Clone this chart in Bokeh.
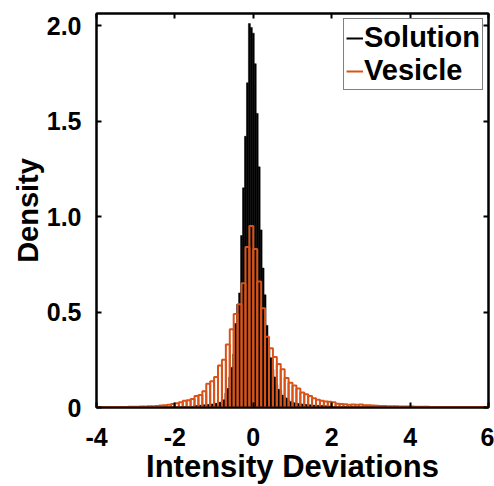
import numpy as np
from bokeh.plotting import figure
from bokeh.models import (Range1d, FixedTicker, LinearAxis, Legend, LegendItem,
                          ColumnDataSource)
from bokeh.embed import file_html
from bokeh.resources import INLINE

# ---------------- data ----------------
# Solution histogram: bins of width 0.05, first bin centred at -1.5
solution_first_center = -1.5
solution_bin_width = 0.05
solution_density = [
    0.010, 0.010, 0.011, 0.012, 0.013, 0.014, 0.015, 0.016, 0.017, 0.018,
    0.020, 0.022, 0.024, 0.027, 0.030,
    0.040, 0.075, 0.100, 0.160, 0.210, 0.280, 0.440, 0.540, 0.600, 0.900,
    1.150, 1.420, 1.700, 2.010, 1.990, 1.960, 1.800, 1.540, 1.260, 0.930,
    0.730, 0.590, 0.430, 0.310, 0.260, 0.200, 0.160, 0.120, 0.095, 0.090,
    0.065, 0.055, 0.050, 0.040, 0.032, 0.028, 0.025, 0.023, 0.021, 0.020,
    0.018, 0.017, 0.016, 0.015, 0.014, 0.013, 0.012, 0.011, 0.011, 0.010,
    0.010, 0.009, 0.009, 0.008, 0.008, 0.007,
]

# Vesicle histogram: bins of width 0.1, first bin starting at -4.0
vesicle_first_edge = -4.0
vesicle_bin_width = 0.1
vesicle_density = [
    0.002, 0.002, 0.002, 0.002, 0.003, 0.003, 0.003, 0.003, 0.004, 0.004,
    0.004, 0.005, 0.005, 0.006, 0.007, 0.008, 0.010, 0.012, 0.015, 0.018,
    0.022, 0.028, 0.035, 0.038, 0.045, 0.060, 0.065, 0.085, 0.124, 0.137,
    0.160, 0.220, 0.250, 0.330, 0.410, 0.490, 0.540, 0.650, 0.840, 0.950,
    0.830, 0.660, 0.520, 0.370, 0.310, 0.265, 0.228, 0.200, 0.155, 0.130,
    0.115, 0.100, 0.078, 0.070, 0.060, 0.048, 0.040, 0.035, 0.032, 0.030,
    0.027, 0.020, 0.018, 0.017, 0.015, 0.016, 0.015, 0.016, 0.012, 0.012,
    0.010, 0.009, 0.008, 0.008, 0.007, 0.006, 0.006, 0.005, 0.005, 0.005,
    0.005, 0.004, 0.004, 0.004, 0.004, 0.003, 0.003, 0.003, 0.003, 0.003,
    0.003, 0.003, 0.003, 0.003, 0.002, 0.002, 0.002, 0.002, 0.002, 0.002,
]

series_names = ["Solution", "Vesicle"]
x_ticks = [-4, -2, 0, 2, 4, 6]
x_tick_labels = ["-4", "-2", "0", "2", "4", "6"]
y_ticks = [0, 0.5, 1.0, 1.5, 2.0]
y_tick_labels = ["0", "0.5", "1.0", "1.5", "2.0"]
x_label = "Intensity Deviations"
y_label = "Density"

# ---------------- build ----------------
FONT = "Liberation Sans"
BLACK = "#000000"
ORANGE = "#D95319"

sol_centers = solution_first_center + solution_bin_width * np.arange(len(solution_density))
sol_src = ColumnDataSource(dict(
    left=sol_centers - solution_bin_width / 2,
    right=sol_centers + solution_bin_width / 2,
    top=solution_density,
))
ves_left = vesicle_first_edge + vesicle_bin_width * np.arange(len(vesicle_density))
ves_src = ColumnDataSource(dict(
    left=ves_left,
    right=ves_left + vesicle_bin_width,
    top=vesicle_density,
))

p = figure(width=494, height=486, x_range=Range1d(-4, 6), y_range=Range1d(0, 2.063),
           output_backend="svg", toolbar_location=None,
           min_border_left=96, min_border_right=6, min_border_top=13,
           min_border_bottom=78)
p.grid.visible = False
p.outline_line_color = "black"
p.outline_line_width = 2
p.background_fill_color = "white"
p.border_fill_color = "white"

p.quad(left="left", right="right", top="top", bottom=0, source=sol_src,
       fill_color=BLACK, line_color=BLACK, line_width=0.5)
p.quad(left="left", right="right", top="top", bottom=0, source=ves_src,
       fill_alpha=0, line_color=ORANGE, line_width=2)

# legend-only line renderers (NaN data: nothing drawn in the plot area)
r_sol = p.line(x=[np.nan], y=[np.nan], line_color=BLACK, line_width=2)
r_ves = p.line(x=[np.nan], y=[np.nan], line_color=ORANGE, line_width=2)

def style_axis(ax, ticks, labels, show_labels=True):
    ax.ticker = FixedTicker(ticks=ticks)
    ax.axis_line_width = 2
    ax.axis_line_color = "black"
    ax.major_tick_in = 5
    ax.major_tick_out = 0
    ax.major_tick_line_width = 2
    ax.minor_tick_line_color = None
    ax.major_label_text_font = FONT
    ax.major_label_text_font_style = "bold"
    if show_labels:
        ax.major_label_overrides = {t: l for t, l in zip(ticks, labels)}
        ax.major_label_text_color = "black"
        ax.major_label_text_font_size = "25px"
    else:
        ax.major_label_text_color = None
        ax.major_label_text_font_size = "1px"
        ax.major_label_standoff = 0

xa = p.xaxis[0]
ya = p.yaxis[0]
style_axis(xa, x_ticks, x_tick_labels)
style_axis(ya, y_ticks, y_tick_labels)
xa.major_label_standoff = 20
ya.major_label_standoff = 15

for ax, lab in ((xa, x_label), (ya, y_label)):
    ax.axis_label = lab
    ax.axis_label_text_font = FONT
    ax.axis_label_text_font_style = "bold"
    ax.axis_label_text_color = "black"
ya.axis_label_text_font_size = "29px"
ya.axis_label_standoff = 0
xa.axis_label_text_font_size = "31px"
xa.axis_label_standoff = 0

top_ax = LinearAxis()
style_axis(top_ax, x_ticks, x_tick_labels, show_labels=False)
p.add_layout(top_ax, "above")
right_ax = LinearAxis()
style_axis(right_ax, y_ticks, y_tick_labels, show_labels=False)
p.add_layout(right_ax, "right")

legend = Legend(items=[LegendItem(label=series_names[0], renderers=[r_sol]),
                       LegendItem(label=series_names[1], renderers=[r_ves])],
                location="top_right")
legend.label_text_font = FONT
legend.label_text_font_style = "bold"
legend.label_text_font_size = "29px"
legend.label_text_color = "black"
legend.glyph_width = 17
legend.glyph_height = 28
legend.label_standoff = 1
legend.label_height = 28
legend.padding = 2
legend.spacing = 0
legend.margin = 5
legend.border_line_color = "black"
legend.border_line_width = 1.5
legend.background_fill_color = "white"
legend.background_fill_alpha = 1
p.add_layout(legend)

open("out.html", "w").write(file_html(p, INLINE))
